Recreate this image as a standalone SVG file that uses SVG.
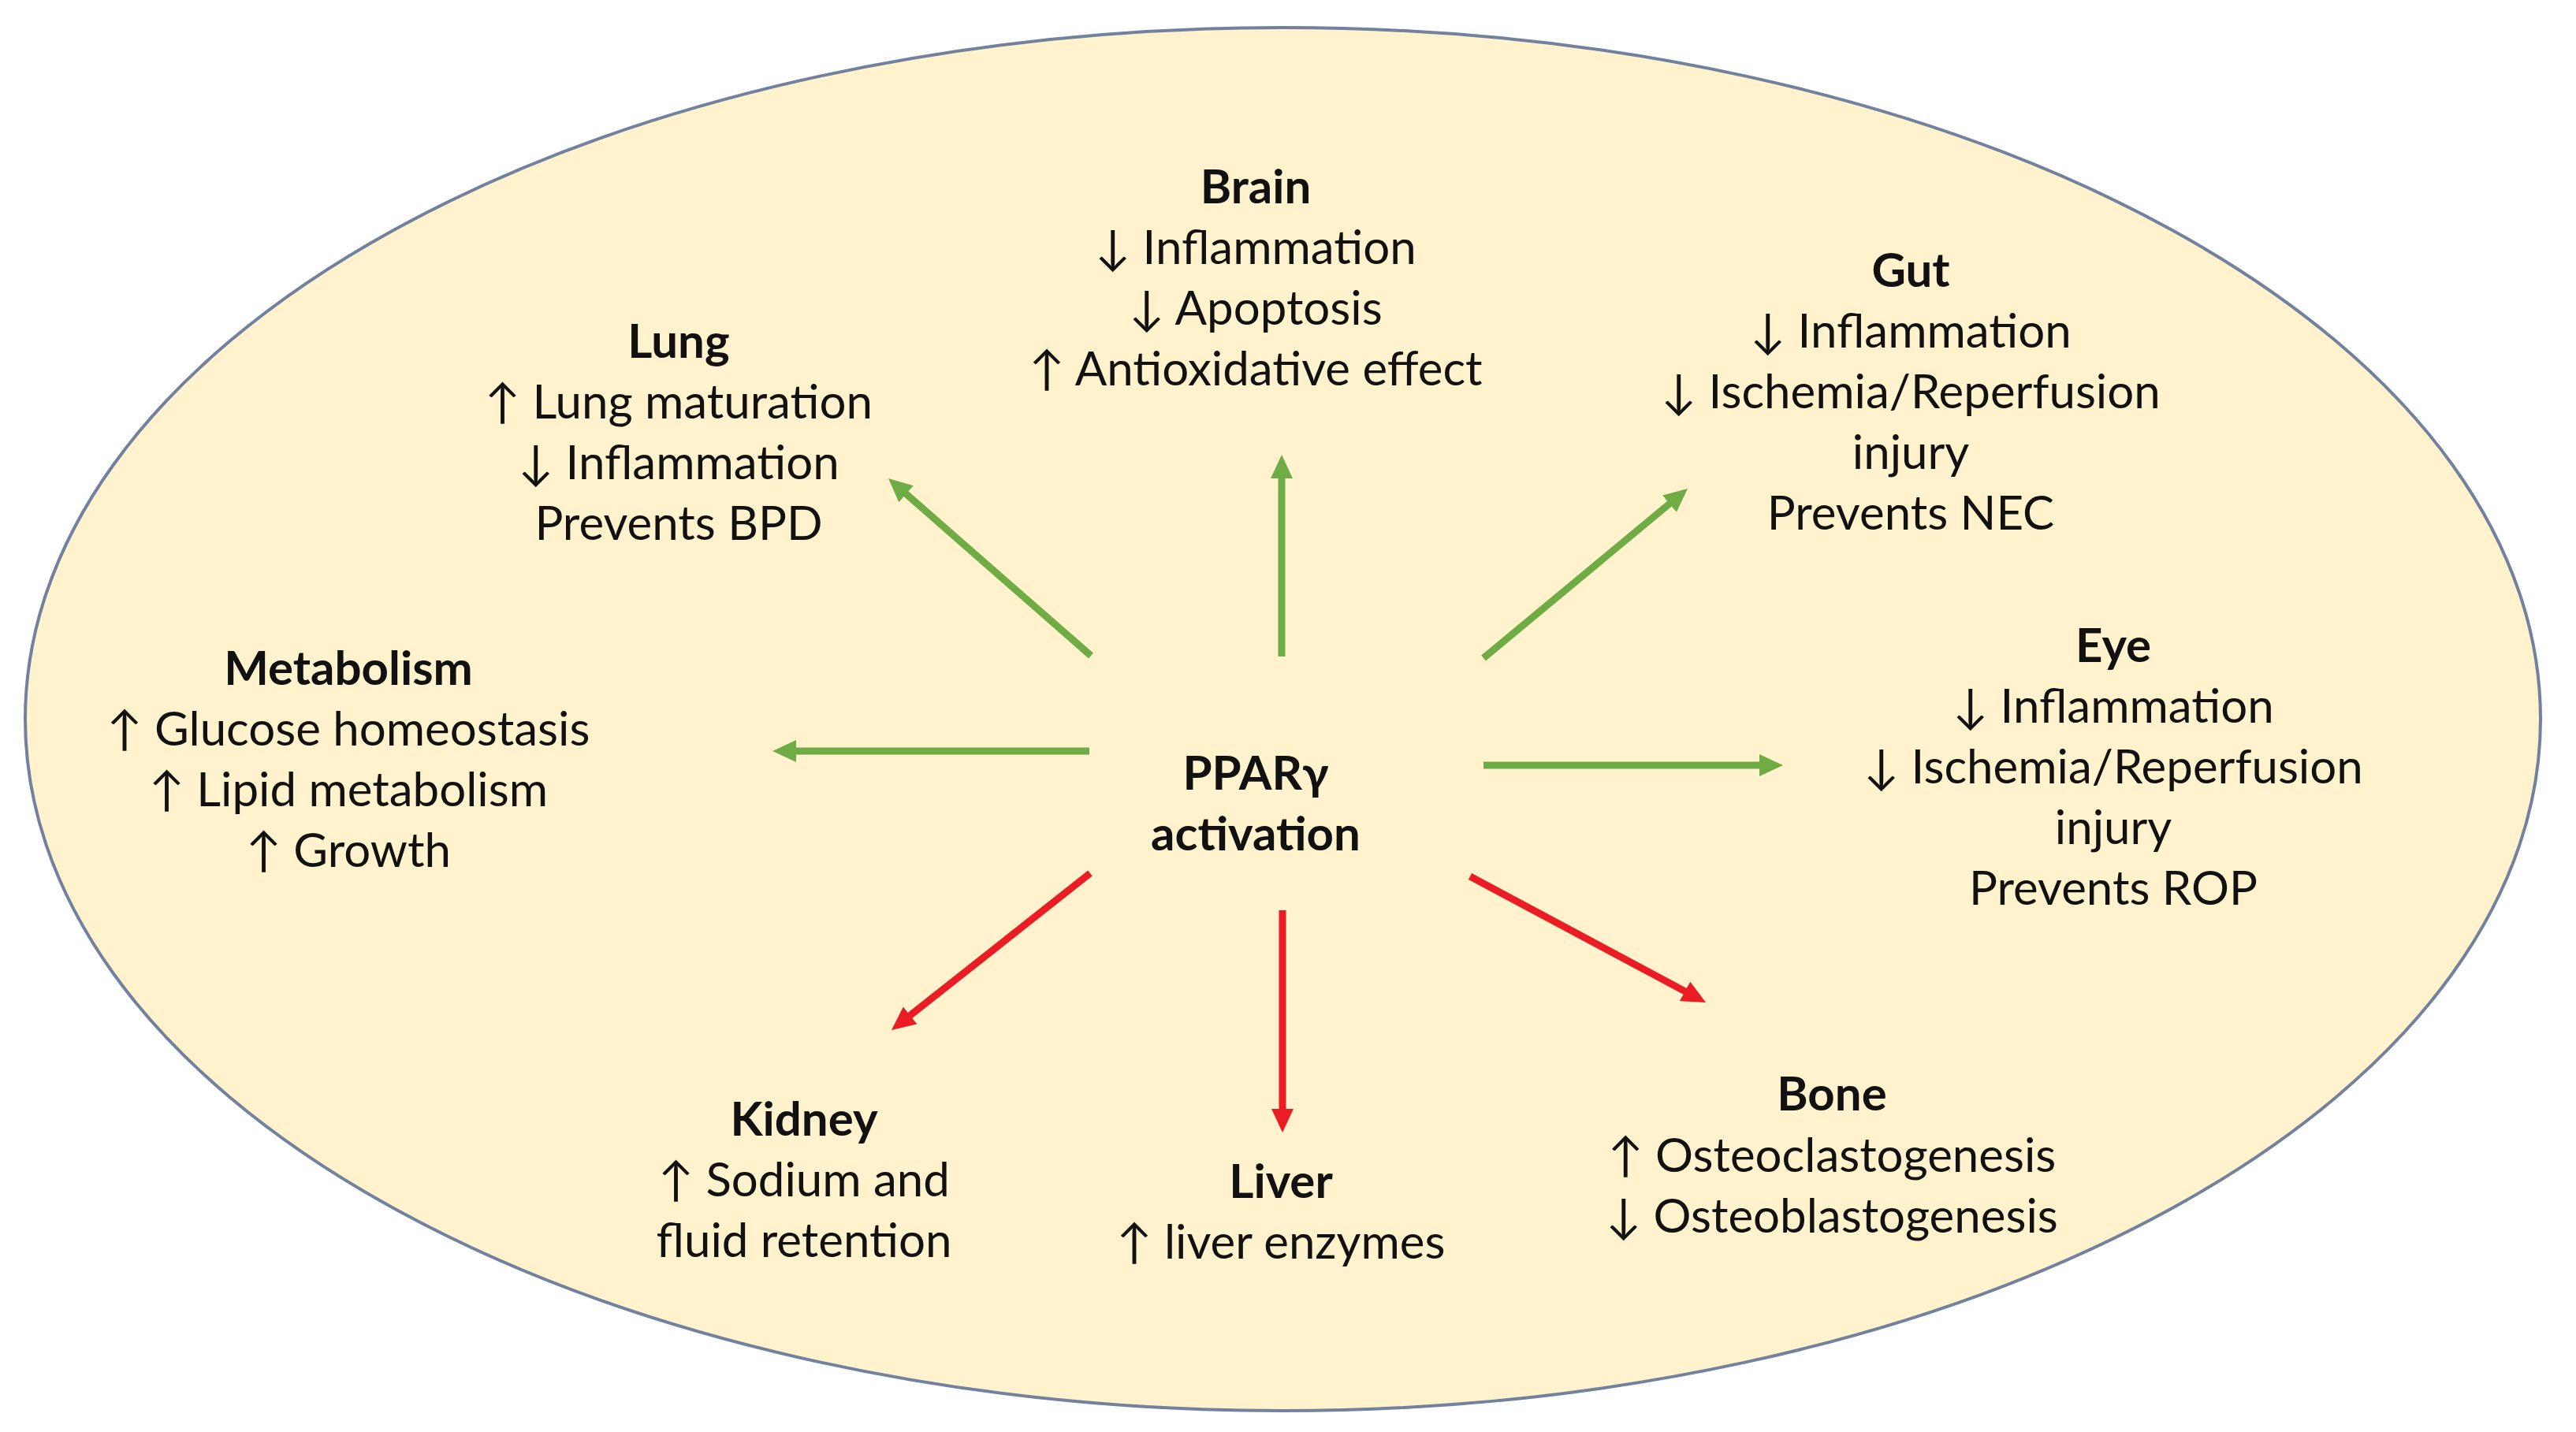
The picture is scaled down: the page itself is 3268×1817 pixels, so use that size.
<svg xmlns="http://www.w3.org/2000/svg" width="3268" height="1817" viewBox="0 0 3268 1817">
<defs>
<style>
.t{font-family:Lato,"DejaVu Sans",sans-serif;font-size:60px;fill:#111;text-anchor:middle}
.b{font-weight:bold}
.g{stroke:#6fac46;stroke-width:9;fill:none}
.r{stroke:#ea1c24;stroke-width:9;fill:none}
</style>
<marker id="ag" viewBox="0 0 30 28" refX="15" refY="14" markerWidth="30" markerHeight="28" markerUnits="userSpaceOnUse" orient="auto"><path d="M0,0 L30,14 L0,28 z" fill="#6fac46"/></marker>
<marker id="ar" viewBox="0 0 30 28" refX="15" refY="14" markerWidth="30" markerHeight="28" markerUnits="userSpaceOnUse" orient="auto"><path d="M0,0 L30,14 L0,28 z" fill="#ea1c24"/></marker>
</defs>
<rect width="3268" height="1817" fill="#ffffff"/>
<ellipse id="bg" cx="1627.5" cy="912.5" rx="1595.5" ry="877.5" fill="#fff2cc" stroke="#71819e" stroke-width="4"/>
<g id="connectors">
<line class="g" x1="1384" y1="832" x2="1138.3" y2="616.9" marker-end="url(#ag)"/>
<line class="g" x1="1626" y1="833" x2="1626" y2="592" marker-end="url(#ag)"/>
<line class="g" x1="1882" y1="835" x2="2129.5" y2="629.6" marker-end="url(#ag)"/>
<line class="g" x1="1382" y1="953" x2="995" y2="953" marker-end="url(#ag)"/>
<line class="g" x1="1882" y1="971" x2="2247" y2="971" marker-end="url(#ag)"/>
<line class="r" x1="1383" y1="1108" x2="1142.8" y2="1297.7" marker-end="url(#ar)"/>
<line class="r" x1="1627" y1="1155" x2="1627" y2="1422" stroke-width="7" marker-end="url(#ar)"/>
<line class="r" x1="1865" y1="1112" x2="2150.8" y2="1264.9" marker-end="url(#ar)"/>
</g>
<g id="center">
<text class="t b" x="1593" y="1002">PPARγ</text>
<text class="t b" x="1593" y="1079">activation</text>
</g>
<g id="brain">
<text class="t b" x="1593" y="258">Brain</text>
<text class="t" x="1593" y="335">↓ Inflammation</text>
<text class="t" x="1593" y="412">↓ Apoptosis</text>
<text class="t" x="1593" y="489">↑ Antioxidative effect</text>
</g>
<g id="lung">
<text class="t b" x="861" y="454">Lung</text>
<text class="t" x="861" y="531">↑ Lung maturation</text>
<text class="t" x="861" y="608">↓ Inflammation</text>
<text class="t" x="861" y="685">Prevents BPD</text>
</g>
<g id="gut">
<text class="t b" x="2424" y="364">Gut</text>
<text class="t" x="2424" y="441">↓ Inflammation</text>
<text class="t" x="2424" y="518">↓ Ischemia/Reperfusion</text>
<text class="t" x="2424" y="595">injury</text>
<text class="t" x="2424" y="672">Prevents NEC</text>
</g>
<g id="metabolism">
<text class="t b" x="442" y="869">Metabolism</text>
<text class="t" x="442" y="946">↑ Glucose homeostasis</text>
<text class="t" x="442" y="1023">↑ Lipid metabolism</text>
<text class="t" x="442" y="1100">↑ Growth</text>
</g>
<g id="eye">
<text class="t b" x="2681" y="840">Eye</text>
<text class="t" x="2681" y="917">↓ Inflammation</text>
<text class="t" x="2681" y="994">↓ Ischemia/Reperfusion</text>
<text class="t" x="2681" y="1071">injury</text>
<text class="t" x="2681" y="1148">Prevents ROP</text>
</g>
<g id="kidney">
<text class="t b" x="1020" y="1441">Kidney</text>
<text class="t" x="1020" y="1518">↑ Sodium and</text>
<text class="t" x="1020" y="1595">fluid retention</text>
</g>
<g id="liver">
<text class="t b" x="1625" y="1520">Liver</text>
<text class="t" x="1625" y="1597">↑ liver enzymes</text>
</g>
<g id="bone">
<text class="t b" x="2324" y="1409">Bone</text>
<text class="t" x="2324" y="1487">↑ Osteoclastogenesis</text>
<text class="t" x="2324" y="1564">↓ Osteoblastogenesis</text>
</g>
</svg>
